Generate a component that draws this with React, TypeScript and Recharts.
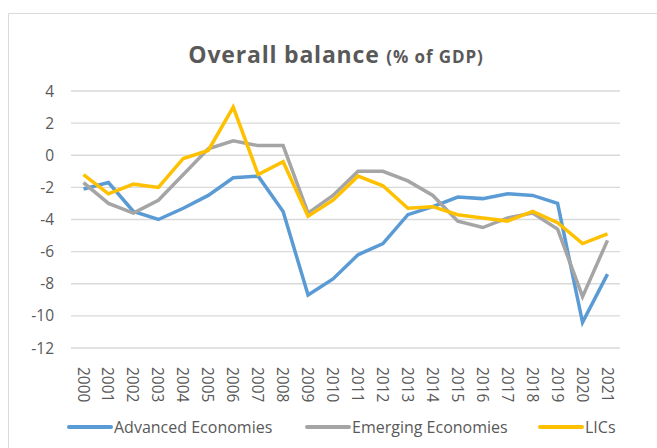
import React from 'react';
import { LineChart, Line, XAxis, YAxis, CartesianGrid } from 'recharts';

const years = [
  '2000', '2001', '2002', '2003', '2004', '2005', '2006', '2007', '2008', '2009', '2010',
  '2011', '2012', '2013', '2014', '2015', '2016', '2017', '2018', '2019', '2020', '2021',
];

const advanced = [
  -2.1, -1.7, -3.5, -4.0, -3.3, -2.5, -1.4, -1.3, -3.5, -8.7, -7.7,
  -6.2, -5.5, -3.7, -3.2, -2.6, -2.7, -2.4, -2.5, -3.0, -10.4, -7.4,
];

const emerging = [
  -1.7, -3.0, -3.6, -2.8, -1.2, 0.4, 0.9, 0.6, 0.6, -3.6, -2.5,
  -1.0, -1.0, -1.6, -2.5, -4.1, -4.5, -3.9, -3.6, -4.6, -8.8, -5.3,
];

const lics = [
  -1.2, -2.4, -1.8, -2.0, -0.2, 0.3, 3.0, -1.2, -0.4, -3.8, -2.8,
  -1.3, -1.9, -3.3, -3.2, -3.7, -3.9, -4.1, -3.5, -4.2, -5.5, -4.9,
];

const yTicks = [4, 2, 0, -2, -4, -6, -8, -10, -12];

const data = years.map((year, i) => ({
  year,
  advanced: advanced[i],
  emerging: emerging[i],
  lics: lics[i],
}));

const FONT = '"Open Sans", "Noto Sans", sans-serif';
const TEXT = '#595959';

const YearTick = (props: any) => {
  const { x, y, payload } = props;
  return (
    <text
      transform={`translate(${x},${y + 11}) rotate(90)`}
      textAnchor="start"
      dominantBaseline="central"
      fill={TEXT}
      fontSize={15.5}
      fontFamily={FONT}
    >
      {payload.value}
    </text>
  );
};

// legend: line start x for each entry
const legendItems = [
  { label: 'Advanced Economies', color: '#5B9BD5', x: 67 },
  { label: 'Emerging Economies', color: '#A5A5A5', x: 305 },
  { label: 'LICs', color: '#FFC000', x: 538 },
];

export default function App() {
  return (
    <div style={{ position: 'absolute', left: 0, top: 0, width: 657, height: 448, background: '#fff', overflow: 'hidden' }}>
      <div style={{ position: 'absolute', left: 0, top: 0 }}>
        <LineChart width={657} height={448} data={data} margin={{ top: 91, right: 37, left: 8, bottom: 0 }}>
          <CartesianGrid vertical={false} stroke="#D9D9D9" strokeWidth={1.3} />
          <XAxis
            dataKey="year"
            interval={0}
            axisLine={false}
            tickLine={false}
            tick={<YearTick />}
            height={100}
            padding={{ left: 12.5, right: 12.5 }}
          />
          <YAxis
            domain={[-12, 4]}
            ticks={yTicks}
            interval={0}
            axisLine={false}
            tickLine={false}
            width={63}
            tick={{ fill: TEXT, fontSize: 15.5, fontFamily: FONT, dx: -9 }}
          />
          <Line type="linear" dataKey="advanced" stroke="#5B9BD5" strokeWidth={3.5} dot={false} isAnimationActive={false} />
          <Line type="linear" dataKey="emerging" stroke="#A5A5A5" strokeWidth={3.5} dot={false} isAnimationActive={false} />
          <Line type="linear" dataKey="lics" stroke="#FFC000" strokeWidth={3.5} dot={false} isAnimationActive={false} />
        </LineChart>
      </div>
      <svg width={657} height={448} style={{ position: 'absolute', left: 0, top: 0, pointerEvents: 'none' }}>
        <path d="M8.5,460 V13.5 H660" fill="none" stroke="#D9D9D9" strokeWidth={1} />
        <text x={336} y={63} textAnchor="middle" fill={TEXT} fontFamily={FONT} fontWeight={700}>
          <tspan fontSize={23} letterSpacing={0.8}>Overall balance </tspan>
          <tspan fontSize={17} letterSpacing={0.9}>(% of GDP)</tspan>
        </text>
        {legendItems.map((item) => (
          <g key={item.label}>
            <line x1={item.x + 2} x2={item.x + 44} y1={427} y2={427} stroke={item.color} strokeWidth={4} strokeLinecap="round" />
            <text x={item.x + 47} y={432.5} fill={TEXT} fontFamily={FONT} fontSize={16}>
              {item.label}
            </text>
          </g>
        ))}
      </svg>
    </div>
  );
}
